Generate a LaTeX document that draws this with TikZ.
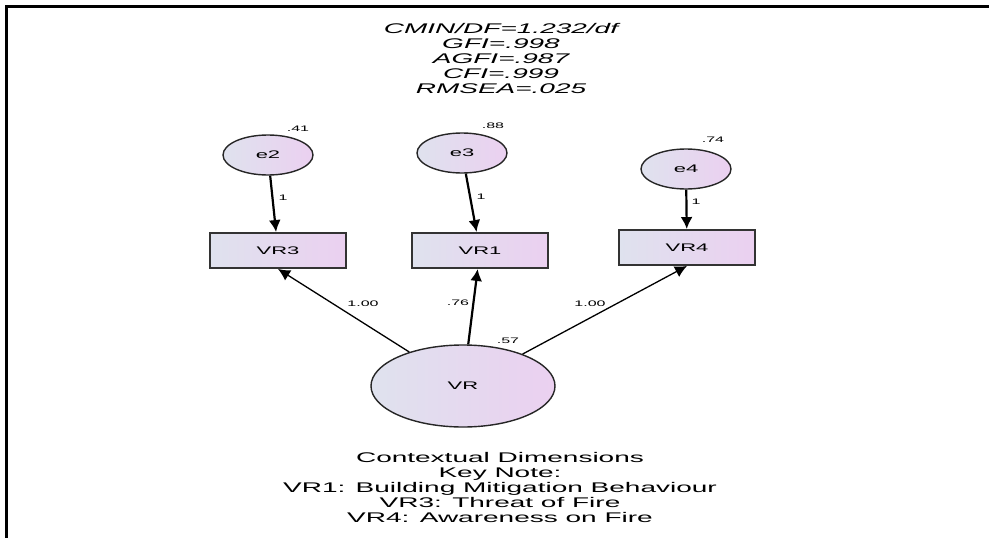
\documentclass[tikz,border=0pt]{standalone}
\usepackage{fontspec}
\newfontfamily\amosfont[FakeStretch=2.0]{Liberation Sans}
\usetikzlibrary{arrows.meta}
\usetikzlibrary{shapes.geometric}

\definecolor{fillL}{HTML}{DFE2EE}
\definecolor{fillR}{HTML}{EBD0F0}

\tikzset{
	latent/.style={ellipse, draw=black!85, line width=1.4pt, left color=fillL, right color=fillR, inner sep=0pt, minimum width=90pt, minimum height=40pt, font=\amosfont\fontsize{11}{12}\selectfont},
	observed/.style={rectangle, draw=black!80, line width=1.9pt, left color=fillL, right color=fillR, inner sep=0pt, minimum width=136pt, minimum height=35pt, font=\amosfont\fontsize{11}{12}\selectfont},
	est/.style={inner sep=0pt, font=\amosfont\fontsize{8}{9}\selectfont},
	link/.style={-{Latex[length=12pt,width=12pt]}, line width=1.3pt},
}

\begin{document}
\begin{tikzpicture}[x=1pt,y=-1pt]
		\useasboundingbox (0,0) rectangle (989,538);
		\draw[line width=2.5pt] (989,6.5) -- (6.5,6.5) -- (6.5,538);
		\node[align=center, font=\amosfont\itshape\fontsize{14}{15}\selectfont] (fitidx) at (501,58) {CMIN/DF=1.232/df\\GFI=.998\\AGFI=.987\\CFI=.999\\RMSEA=.025};
		\node[latent] (e2) at (268,155) {e2};
		\node[latent] (e3) at (462,153) {e3};
		\node[latent] (e4) at (686,169) {e4};
		\node[observed] (VR3) at (278,250.5) {VR3};
		\node[observed] (VR1) at (480,250.5) {VR1};
		\node[observed] (VR4) at (687,247.5) {VR4};
		\node[latent, minimum width=184pt, minimum height=82pt] (VR) at (463,386) {VR};
		\node[est] (v2) at (298,129) {.41};
		\node[est] (v3) at (493,126) {.88};
		\node[est] (v4) at (713,140) {.74};
		\node[est] (vVR) at (508,341) {.57};
		\node[est] (w2) at (283,198) {1};
		\node[est] (w3) at (481,197) {1};
		\node[est] (w4) at (696,202) {1};
		\node[est] (l3) at (363,304) {1.00};
		\node[est] (l1) at (458,303) {.76};
		\node[est] (l4) at (590,304) {1.00};
		\draw[link, line width=2.2pt] (e2) -- (VR3);
		\draw[link, line width=2.2pt] (e3) -- (VR1);
		\draw[link, line width=2.2pt] (e4) -- (VR4);
		\draw[link] (VR) -- (VR3.south);
		\draw[link, line width=2.2pt] (VR) -- (VR1);
		\draw[link] (VR) -- (VR4.south);
		\node[align=center, font=\amosfont\fontsize{14}{15}\selectfont] (keynote) at (500,487) {Contextual Dimensions\\Key Note:\\VR1: Building Mitigation Behaviour\\VR3: Threat of Fire\\VR4: Awareness on Fire};
	\end{tikzpicture}
\end{document}
